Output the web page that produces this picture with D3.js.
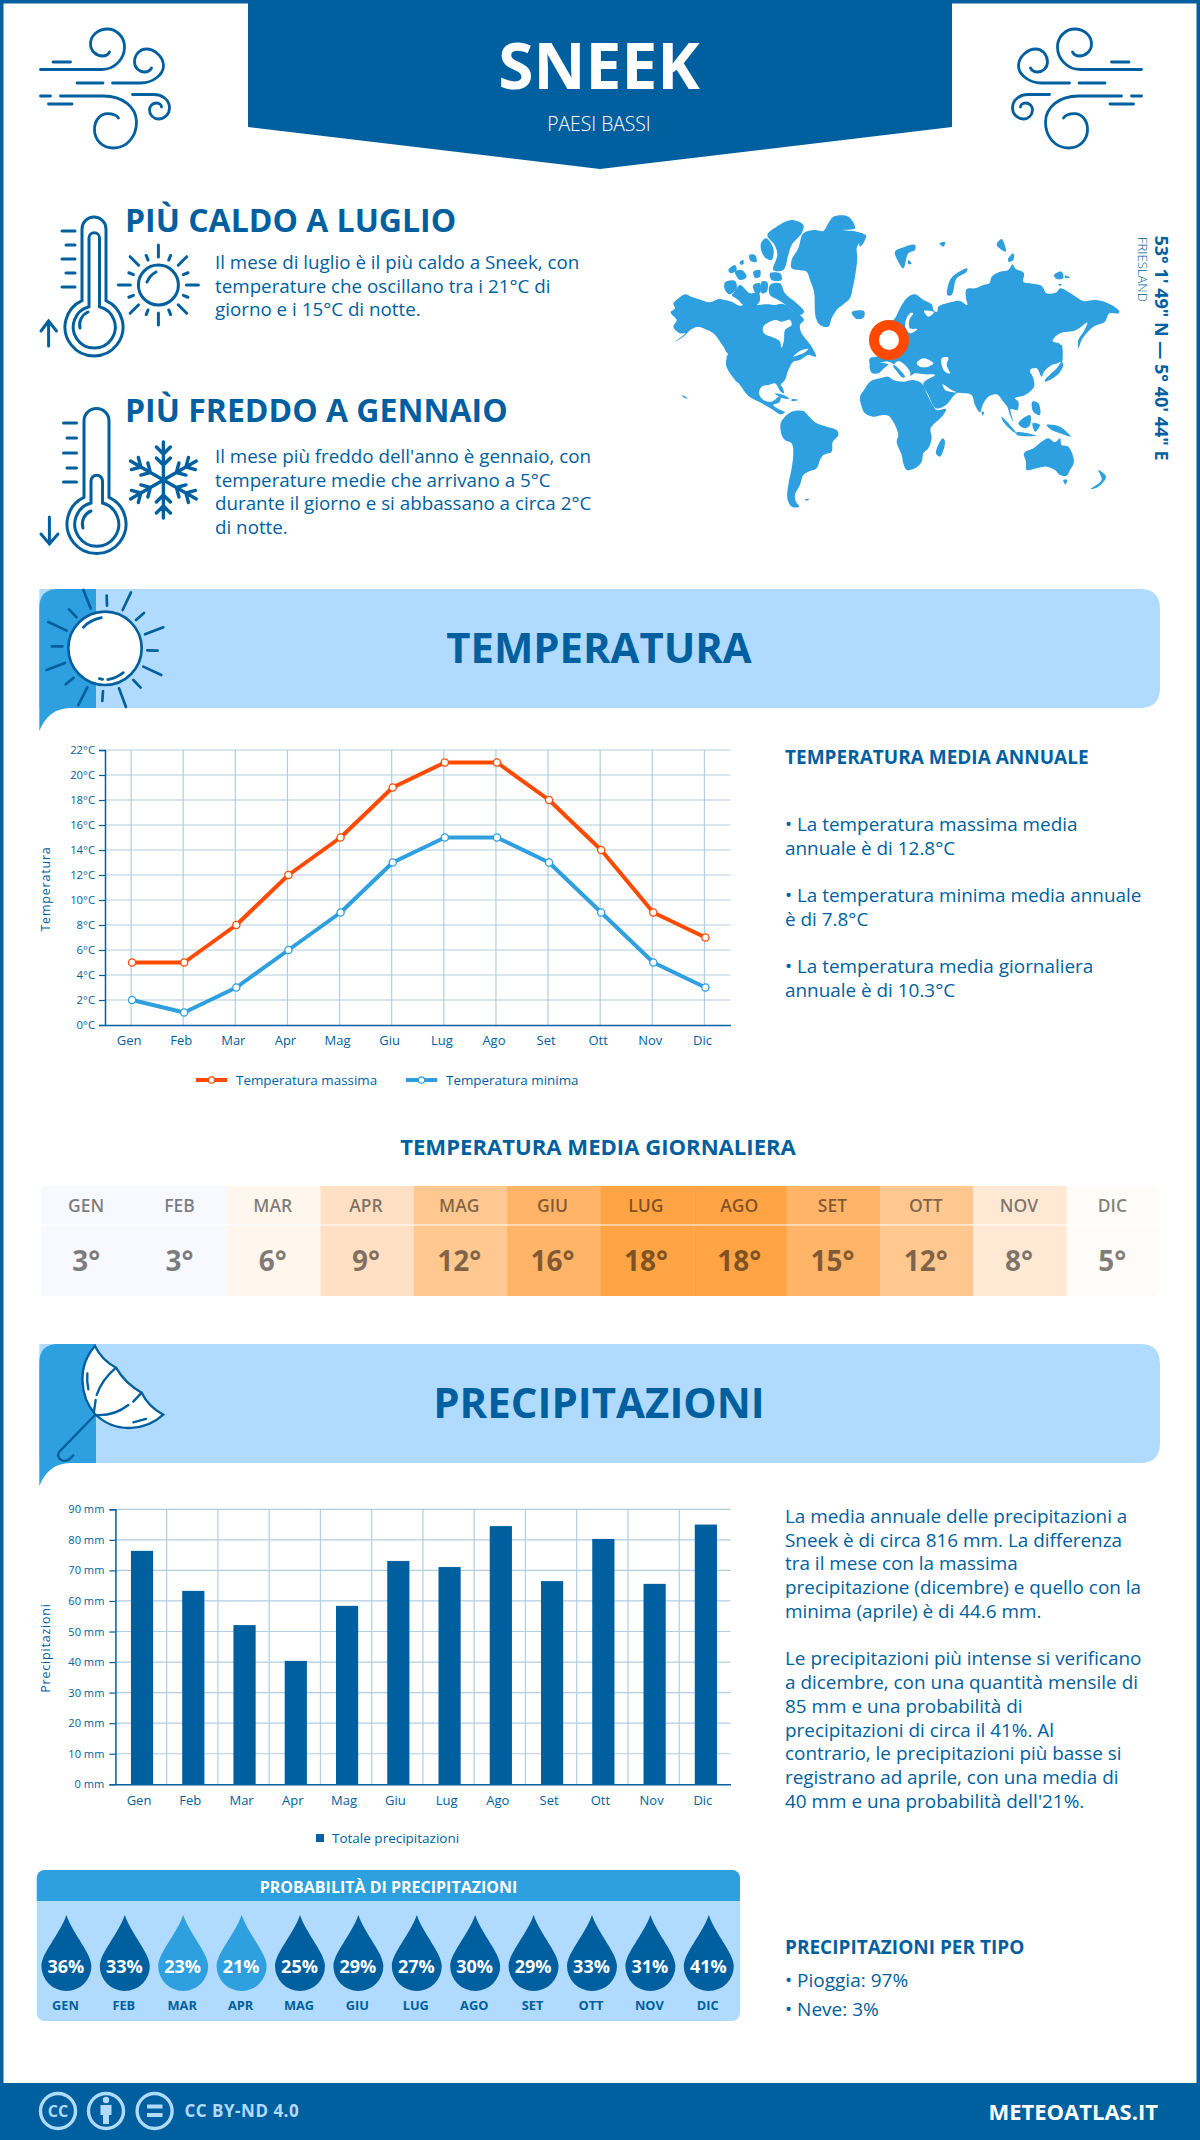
<!DOCTYPE html>
<html><head><meta charset="utf-8">
<script src="https://d3js.org/d3.v7.min.js"></script>
<style>
html,body{margin:0;padding:0;background:#fff}
svg{display:block}
text{font-family:"Open Sans",sans-serif}
</style></head><body><div id="c"></div>
<script>
const months=["Gen","Feb","Mar","Apr","Mag","Giu","Lug","Ago","Set","Ott","Nov","Dic"];
const monthsUpper=["GEN","FEB","MAR","APR","MAG","GIU","LUG","AGO","SET","OTT","NOV","DIC"];
const tempMax=[5,5,8,12,15,19,21,21,18,14,9,7];
const tempMin=[2,1,3,6,9,13,15,15,13,9,5,3];
const tempTicks=d3.range(0,23,2);
const dailyAvg=[3,3,6,9,12,16,18,18,15,12,8,5];
const dailyColors=["#f8f8ff","#f8f8ff","#fff6ee","#ffe0c4","#ffc890","#ffb468","#ffa445","#ffa445","#ffb468","#ffc890","#ffe9d4","#fffbf8"];
const precip=[76.4,63.3,52.1,40.4,58.4,73.1,71.1,84.5,66.5,80.3,65.6,85];
const precipTicks=d3.range(0,91,10);
const precipProb=[36,33,23,21,25,29,27,30,29,33,31,41];

const DARK="#005f9e",MID="#2e9fdf",LIGHT="#b0dbff",ORANGE="#ff4a00",GRID="#b1cde2";
const svg=d3.select("#c").append("svg").attr("width",1200).attr("height",2140).attr("viewBox","0 0 1200 2140");

function txt(p,x,y,s,size,o={}){
  const t=p.append("text").attr("x",x).attr("y",y).text(s).attr("font-size",size)
    .attr("fill",o.fill||DARK).attr("font-weight",o.w||400).attr("text-anchor",o.a||"start");
  if(o.ls)t.attr("letter-spacing",o.ls);
  if(o.op)t.attr("fill-opacity",o.op);
  if(o.tr)t.attr("transform",o.tr);
  return t;
}
function lines(p,x,ys,arr,size,o){arr.forEach((s,i)=>txt(p,x,ys[i],s,size,o));}

// frame
svg.append("rect").attr("x",1.75).attr("y",1.75).attr("width",1196.5).attr("height",2130).attr("fill","none").attr("stroke",DARK).attr("stroke-width",3.5);

// header
svg.append("path").attr("d","M248,0H952V127L600,169L248,127Z").attr("fill",DARK);
txt(svg,599,89,"SNEEK",64,{fill:"#fff",w:700,a:"middle"});
txt(svg,599,131,"PAESI BASSI",19.3,{fill:"#fff",w:300,a:"middle"});

// wind icons
const windPaths=["M40,69.5H101C115,69.5 124,58 124,47C124,36 115,29 107,29C97,29 90,36 90,44C90,51 96,56 102,56C105,56 108,54 109,52",
"M52.5,62H70","M76.5,83H102.5",
"M112,83H140C153,83 163,74 163,66C163,56 153,49 146,49C139,49 134,55 134,62C134,68 139,72 144,72C147,72 150,70 151,68",
"M40,96H50","M60,96H103C122,96 136,107 136,122C136,137 126,148 113,148C102,148 94,140 94,129.5C94,120 100,113.6 107,113.6C112,113.6 116,115 118,118",
"M48,104H71.5",
"M132,94.5H153C162,94.5 169,100 169,108C169,114 164,119 158,119C153,119 149,115 149,110C149,106 152,103 156,103C159,103 161,105 161,107"];
[ "translate(0.5,0)", "translate(1181.5,0) scale(-1,1)" ].forEach(tr=>{
  svg.append("g").attr("transform",tr).selectAll("path").data(windPaths).join("path").attr("d",d=>d)
    .attr("fill","none").attr("stroke",DARK).attr("stroke-width",2.8).attr("stroke-linecap","round");
});

// hot / cold icons
const icon=svg.append("g").attr("fill","none").attr("stroke",DARK).attr("stroke-width",3).attr("stroke-linecap","round");
icon.append("path").attr("d","M82,300.6V229A12,12 0 0 1 106,229V300.6A29,29 0 1 1 82,300.6Z");
icon.append("path").attr("d","M89,306.7V238A5.2,5.2 0 0 1 99.5,238V306.7A21,21 0 1 1 89,306.7Z");
icon.append("path").attr("d","M80,328A14,14 0 0 1 88,312");
[[62,231],[66,245],[62,259],[66,273],[62,287]].forEach(d=>icon.append("path").attr("d",`M${d[0]},${d[1]}H75`));
icon.append("path").attr("d","M48.6,346V321M41,331L48.6,321L56.5,331");
// small sun
icon.append("circle").attr("cx",158.4).attr("cy",285).attr("r",20);
icon.append("path").attr("d","M147,282Q150,275 156,272");
d3.range(16).forEach(i=>{const a=i*Math.PI/8,r0=i%2?27:28,r1=i%2?32:40;
  icon.append("path").attr("d",`M${158.4+r0*Math.cos(a)},${285+r0*Math.sin(a)}L${158.4+r1*Math.cos(a)},${285+r1*Math.sin(a)}`);});
icon.append("path").attr("d","M84,497.3V421A12.5,12.5 0 0 1 109,421V497.3A29.5,29.5 0 1 1 84,497.3Z");
icon.append("path").attr("d","M91,503V481A5.7,5.7 0 0 1 102.5,481V503A22,22 0 1 1 91,503Z");
icon.append("path").attr("d","M83,528A14,14 0 0 1 91,511");
[[63.5,423],[67,438],[63.5,453],[67,468],[63.5,482]].forEach(d=>icon.append("path").attr("d",`M${d[0]},${d[1]}H76.5`));
icon.append("path").attr("d","M49.4,517V543M41,534L49.4,544L58,534");
// snowflake
d3.range(6).forEach(i=>{
  const g=icon.append("g").attr("transform",`translate(163.4,480) rotate(${i*60})`).attr("stroke-width",3.4);
  g.append("path").attr("d","M0,0V-38M-7,-33L0,-26L7,-33M-7,-22L0,-15L7,-22");
});

// hot / cold text
txt(svg,125,232,"PIÙ CALDO A LUGLIO",32,{w:700});
lines(svg,215,[269,292.5,316],["Il mese di luglio è il più caldo a Sneek, con","temperature che oscillano tra i 21°C di","giorno e i 15°C di notte."],18.8);
txt(svg,125,421.5,"PIÙ FREDDO A GENNAIO",32,{w:700});
lines(svg,215,[463,486.5,510,534],["Il mese più freddo dell'anno è gennaio, con","temperature medie che arrivano a 5°C","durante il giorno e si abbassano a circa 2°C","di notte."],18.8);

// world map (decorative outlines, in zoomed pixel units)
const mapWest=[
"40,295 58,278 75,268 95,276 115,282 150,292 175,282 195,285 215,290 240,302 262,296 290,300 320,298 345,300 365,296 378,300 395,315 420,330 432,345 420,360 425,385 440,405 455,425 468,455 445,450 420,465 400,470 385,495 375,525 362,540 368,548 372,565 362,560 352,543 345,535 325,540 305,545 297,565 310,585 335,590 362,572 358,592 340,600 355,612 375,622 362,628 335,612 300,592 268,575 245,550 225,525 210,505 198,480 200,445 180,410 160,385 135,372 115,365 95,372 70,395 45,410 75,385 60,385 40,365 50,345 32,322 45,310",
"330,240 360,235 375,265 410,295 432,320 420,330 395,315 378,300 355,285 330,270",
"220,265 240,240 270,265 295,262 300,285 290,300 250,300 235,285 215,270",
"195,232 225,228 230,250 210,268 195,255",
"205,195 225,180 230,195 212,205","225,200 245,195 260,215 240,225","240,170 250,165 250,178 240,178","268,150 285,150 290,170 272,168","280,200 300,195 300,215 285,218","305,230 322,232 320,260 305,265","280,240 300,235 300,265 285,262",
"322,90 350,65 395,45 430,60 425,85 395,120 385,150 370,195 340,195 352,150 345,122",
"303,115 318,100 340,130 335,165 318,160 305,140","330,205 360,205 365,225 335,225",
"395,165 415,130 430,85 465,75 490,78 505,55 520,35 565,35 585,70 550,75 590,80 615,90 600,110 590,130 592,155 590,180 585,215 578,250 570,280 550,298 530,315 515,340 505,365 480,360 468,340 465,320 462,260 450,225 440,200 415,195 395,190",
"575,322 610,318 612,335 590,342",
"362,655 375,635 395,620 430,618 445,632 470,655 500,665 530,675 535,690 518,712 515,740 490,750 480,765 470,790 445,800 430,810 420,840 405,870 408,890 418,905 395,905 382,880 385,840 395,790 400,740 395,715 375,705 365,690",
"345,566 372,570 388,582 365,578","395,583 415,585 395,588","435,883 448,882 440,887","66,570 84,580 72,578"];
const mapWestHoles=[
"345,345 310,365 312,385 345,400 360,410 365,428 372,405 375,375 395,360 390,345 365,350",
"400,455 420,438 445,432 430,445 415,450",
"230,530 255,565 250,568 228,538","188,432 204,448 200,452"];
const mapEast=[
"30,478 60,473 85,470 100,477 120,495 135,515 128,518 110,498 100,483 115,468 135,480 150,500 152,512 165,505 195,508 225,510 190,535 205,570 228,610 258,600 290,565 312,565 335,570 345,600 360,622 368,600 385,575 410,568 430,590 442,605 450,630 460,650 452,612 472,615 475,590 465,580 495,570 522,545 520,520 510,495 530,490 545,515 552,500 575,480 600,470 600,418 578,408 600,385 640,378 660,368 682,352 672,378 655,405 655,430 668,400 700,365 735,350 748,325 775,325 778,318 740,293 705,285 670,288 640,270 600,250 590,262 560,265 545,243 510,235 490,230 492,205 465,190 458,178 445,195 420,200 395,215 388,235 370,240 345,250 320,252 318,280 322,300 300,288 280,290 235,305 232,320 222,318 215,298 190,285 165,268 145,275 125,300 105,340 85,360 60,450 30,460",
"30,478 60,473 85,478 72,490 55,505 35,503",
"0,575 12,555 30,530 60,520 85,515 100,525 130,530 160,525 185,535 200,565 218,600 230,615 258,612 250,630 235,645 212,670 215,700 205,730 190,745 185,770 165,790 140,795 130,775 125,750 110,710 115,690 100,650 85,632 70,630 40,635 15,625 5,605",
"248,700 255,710 240,755 228,745",
"492,745 520,730 545,710 565,700 585,712 600,700 605,720 625,725 642,770 630,795 620,812 600,810 585,795 560,785 530,790 500,795 498,770",
"610,825 622,825 616,838","715,795 738,815 715,845 692,852 725,825",
"560,660 600,665 632,695 600,685 575,675","475,655 510,630 510,660 495,670","425,635 470,685 460,680 430,650","470,682 530,692 470,690",
"518,655 540,660 525,680","517,590 535,595 540,630 520,620","555,525 590,490 605,470 610,480 592,510 555,530","600,420 605,420 606,470 600,470","365,620 372,622 368,632",
"105,140 135,125 165,120 165,135 145,145 130,190 115,170","145,165 155,175 145,178",
"262,270 270,225 290,205 322,190 320,200 290,220 275,270","238,115 256,112 250,125",
"410,120 425,102 438,140","445,160 460,145 460,165 445,170","582,210 605,200 610,220 590,222","615,212 630,218 615,218","595,238 605,238 600,243",
"0,95 18,90 10,115 0,125","0,322 12,318 12,335 0,342"];
const mapEastHoles=[
"150,325 135,360 150,385 172,372 150,370 148,345 160,325",
"170,475 190,460 220,475 205,485 180,485","245,460 265,458 260,480 270,505 255,500 245,480",
"248,538 275,555 290,562 270,560 255,555","192,318 222,322 205,335"];
const smooth=d3.line().curve(d3.curveCatmullRomClosed.alpha(.5));
function pts(s){return s.split(" ").map(p=>p.split(",").map(Number));}
function drawMap(tr,polys,holes){
  const g=svg.append("g").attr("transform",tr);
  g.selectAll(".a").data(polys).join("path").attr("d",d=>smooth(pts(d))).attr("fill",MID);
  g.selectAll(".b").data(holes).join("path").attr("d",d=>smooth(pts(d))).attr("fill","#fff");
}
drawMap("translate(660,205) scale(.3333)",mapWest,mapWestHoles);
drawMap("translate(860,205) scale(.3333)",mapEast,mapEastHoles);
svg.append("circle").attr("cx",889).attr("cy",340).attr("r",15).attr("fill","#fff").attr("stroke",ORANGE).attr("stroke-width",10);
txt(svg,0,0,"53° 1' 49\" N — 5° 40' 44\" E",18,{w:700,tr:"translate(1155,235.5) rotate(90)"});
txt(svg,0,0,"FRIESLAND",13,{w:300,tr:"translate(1137.5,237) rotate(90)"});

// banners
function banner(y,title,size){
  const h=119;
  svg.append("path").attr("d",`M39.3,${y}H1140Q1160,${y} 1160,${y+20}V${y+h-20}Q1160,${y+h} 1140,${y+h}H39.3Z`).attr("fill",LIGHT);
  svg.append("path").attr("d",`M39.3,${y+142}V${y+19}Q39.3,${y} 58,${y}H96V${y+h}H70C55,${y+h} 45,${y+128} 39.3,${y+142}Z`).attr("fill",MID);
  txt(svg,599,y+74,title,size,{w:700,a:"middle"});
}
banner(589,"TEMPERATURA",41.8);
banner(1344,"PRECIPITAZIONI",42);

// banner sun
const sunRays=[[160,15,182,70],[230,32,231,62],[303,22,278,75],[342,84,318,105],[400,127,345,148],[352,196,383,197],[340,245,394,270],[310,285,332,308],[267,310,288,366],[219,318,217,348],[172,307,145,360],[131,278,107,298],[105,234,50,255],[97,184,66,184],[110,137,55,111],[140,97,117,73]];
const bs=svg.append("g").attr("transform","translate(30,585) scale(.3333)").attr("fill","none").attr("stroke",DARK).attr("stroke-width",8).attr("stroke-linecap","round");
bs.selectAll("line").data(sunRays).join("line").attr("x1",d=>d[0]).attr("y1",d=>d[1]).attr("x2",d=>d[2]).attr("y2",d=>d[3]);
bs.append("circle").attr("cx",225).attr("cy",190).attr("r",110).attr("fill","#fff");
bs.append("path").attr("d","M160,127Q180,105 214,98M233,284Q258,280 280,263M208,281L218,283");

// banner umbrella
const um=svg.append("g").attr("transform","translate(30,1340) scale(.3333)").attr("fill","none").attr("stroke",DARK).attr("stroke-width",7).attr("stroke-linecap","round");
um.append("path").attr("d","M195,18Q215,60 258,83Q285,130 335,158Q355,200 400,224C350,270 260,285 195,222C150,170 140,80 195,18Z").attr("fill","#fff");
um.append("path").attr("d","M258,83Q215,120 200,165M197,180L192,215M195,225Q250,230 295,195M310,185L335,158M172,100Q170,125 175,148M310,247L348,237M195,225L88,335C78,350 92,365 108,362C118,360 125,352 130,346");

// temperature chart
const tc={l:105,r:730.5,t:750,b:1025};
const tx=d3.scaleBand().domain(months).range([tc.l,tc.r]);
const ty=d3.scaleLinear().domain([0,22]).range([tc.b,tc.t]);
const tg=svg.append("g");
tg.selectAll(".h").data(tempTicks.slice(1)).join("line").attr("x1",tc.l).attr("x2",tc.r).attr("y1",d=>ty(d)).attr("y2",d=>ty(d)).attr("stroke",GRID).attr("stroke-width",1.2);
tg.selectAll(".v").data(months).join("line").attr("x1",d=>tx(d)+tx.bandwidth()/2).attr("x2",d=>tx(d)+tx.bandwidth()/2).attr("y1",tc.t).attr("y2",tc.b).attr("stroke",GRID).attr("stroke-width",1.2);
function styleAxis(g,size){
  g.select(".domain").attr("stroke",DARK).attr("stroke-width",1.5);
  g.selectAll(".tick line").attr("stroke",DARK).attr("stroke-width",1.2);
  g.selectAll("text").attr("fill",DARK).attr("font-family",'"Open Sans",sans-serif').attr("font-size",size);
}
tg.append("g").attr("transform",`translate(${tc.l},0)`).call(d3.axisLeft(ty).tickValues(tempTicks).tickFormat(d=>d+"°C").tickSize(6).tickPadding(4)).call(styleAxis,11.3);
tg.append("g").attr("transform",`translate(0,${tc.b})`).call(d3.axisBottom(tx).tickSize(0).tickPadding(11)).call(styleAxis,13).call(g=>g.selectAll("text").attr("dx",-2));
txt(tg,0,0,"Temperatura",12.5,{a:"middle",ls:.8,tr:"translate(49.5,889) rotate(-90)"});
const lineGen=d3.line().x((d,i)=>tx(months[i])+tx.bandwidth()/2+1).y(d=>ty(d));
[[tempMax,ORANGE],[tempMin,MID]].forEach(([vals,col])=>{
  tg.append("path").attr("d",lineGen(vals)).attr("fill","none").attr("stroke",col).attr("stroke-width",4).attr("stroke-linejoin","round");
  tg.selectAll(null).data(vals).join("circle").attr("cx",(d,i)=>tx(months[i])+tx.bandwidth()/2+1).attr("cy",d=>ty(d)).attr("r",3.6).attr("fill","#fff").attr("stroke",col).attr("stroke-width",1.3);
});
[[196,ORANGE,"Temperatura massima",236],[406,MID,"Temperatura minima",446]].forEach(([x,col,s,tx0])=>{
  svg.append("line").attr("x1",x).attr("x2",x+31).attr("y1",1080).attr("y2",1080).attr("stroke",col).attr("stroke-width",4);
  svg.append("circle").attr("cx",x+15.5).attr("cy",1080).attr("r",3.2).attr("fill","#fff").attr("stroke",col).attr("stroke-width",1.2);
  txt(svg,tx0,1084.5,s,13.4);
});

// temp right text
txt(svg,785,764,"TEMPERATURA MEDIA ANNUALE",19,{w:700});
lines(svg,785,[831,855,902,926,973,997],["• La temperatura massima media","annuale è di 12.8°C","• La temperatura minima media annuale","è di 7.8°C","• La temperatura media giornaliera","annuale è di 10.3°C"],18.9);

// daily table
txt(svg,598,1155,"TEMPERATURA MEDIA GIORNALIERA",22.1,{w:700,a:"middle"});
const cx=d3.scaleBand().domain(monthsUpper).range([40.5,1160]);
svg.append("clipPath").attr("id","tc").append("rect").attr("x",40.5).attr("y",1186).attr("width",1119.5).attr("height",110).attr("rx",6);
const tb=svg.append("g").attr("clip-path","url(#tc)");
tb.selectAll("rect").data(monthsUpper).join("rect").attr("x",d=>cx(d)).attr("y",1186).attr("width",cx.bandwidth()+.3).attr("height",110).attr("fill",(d,i)=>dailyColors[i]);
svg.append("line").attr("x1",40.5).attr("x2",1160).attr("y1",1225).attr("y2",1225).attr("stroke","#fff").attr("stroke-width",1.2);
monthsUpper.forEach((m,i)=>{
  const c=cx(m)+cx.bandwidth()/2-1;
  txt(svg,c,1212,m,17.5,{fill:"#000",op:.5,w:600,a:"middle"});
  txt(svg,c,1271,dailyAvg[i]+"°",28,{fill:"#000",op:.5,w:700,a:"middle"});
});

// precipitation chart
const pc={l:115.4,r:730.5,t:1509.3,b:1784.3};
const px=d3.scaleBand().domain(months).range([pc.l,pc.r]);
const py=d3.scaleLinear().domain([0,90]).range([pc.b,pc.t]);
const pg=svg.append("g");
pg.selectAll(".h").data(precipTicks.slice(1)).join("line").attr("x1",pc.l).attr("x2",pc.r).attr("y1",d=>py(d)).attr("y2",d=>py(d)).attr("stroke",GRID).attr("stroke-width",1.2);
pg.selectAll(".v").data(months.slice(1)).join("line").attr("x1",d=>px(d)).attr("x2",d=>px(d)).attr("y1",pc.t).attr("y2",pc.b).attr("stroke",GRID).attr("stroke-width",1.2);
pg.selectAll(".bar").data(precip).join("rect").attr("x",(d,i)=>px(months[i])+px.bandwidth()/2-10.1).attr("width",22.2).attr("y",d=>py(d)).attr("height",d=>pc.b-py(d)).attr("fill",DARK);
pg.append("g").attr("transform",`translate(${pc.l},0)`).call(d3.axisLeft(py).tickValues(precipTicks).tickFormat(d=>d+" mm").tickSize(6).tickPadding(5)).call(styleAxis,11.1);
pg.append("g").attr("transform",`translate(0,${pc.b})`).call(d3.axisBottom(px).tickSize(0).tickPadding(11)).call(styleAxis,13).call(g=>g.selectAll("text").attr("dx",-2));
txt(pg,0,0,"Precipitazioni",12.5,{a:"middle",ls:.8,tr:"translate(49.5,1648) rotate(-90)"});
svg.append("rect").attr("x",316).attr("y",1834).attr("width",8).attr("height",8).attr("fill",DARK);
txt(svg,332,1842.5,"Totale precipitazioni",13.5);

// precipitation right text
lines(svg,785,[1523,1546.7,1570.4,1594,1618,1665,1689,1713,1736.5,1760,1784,1808],
["La media annuale delle precipitazioni a","Sneek è di circa 816 mm. La differenza","tra il mese con la massima","precipitazione (dicembre) e quello con la","minima (aprile) è di 44.6 mm.","Le precipitazioni più intense si verificano","a dicembre, con una quantità mensile di","85 mm e una probabilità di","precipitazioni di circa il 41%. Al","contrario, le precipitazioni più basse si","registrano ad aprile, con una media di","40 mm e una probabilità dell'21%."],18.9);
txt(svg,785,1954,"PRECIPITAZIONI PER TIPO",19,{w:700});
lines(svg,785,[1987,2016],["• Pioggia: 97%","• Neve: 3%"],19);

// probability panel
svg.append("rect").attr("x",36.8).attr("y",1870).attr("width",703.2).attr("height",151).attr("rx",8).attr("fill",LIGHT);
svg.append("path").attr("d","M36.8,1901V1878A8,8 0 0 1 44.8,1870H732A8,8 0 0 1 740,1878V1901Z").attr("fill",MID);
txt(svg,388.5,1893,"PROBABILITÀ DI PRECIPITAZIONI",16,{fill:"#fff",w:700,a:"middle"});
const dx=d3.scaleBand().domain(monthsUpper).range([37.2,738]);
monthsUpper.forEach((m,i)=>{
  const c=dx(m)+dx.bandwidth()/2;
  svg.append("path").attr("transform",`translate(${c},1966)`).attr("d","M0,-51C-7,-31 -25,-13 -25,0A25,25 0 0 0 25,0C25,-13 7,-31 0,-51Z").attr("fill",precipProb[i]<25?MID:DARK);
  txt(svg,c-0.5,1973,precipProb[i]+"%",18,{fill:"#fff",w:700,a:"middle"});
  txt(svg,c-1,2010,m,12.8,{w:700,a:"middle"});
});

// footer
svg.append("rect").attr("x",0).attr("y",2083).attr("width",1200).attr("height",57).attr("fill",DARK);
const cc=svg.append("g").attr("fill","none").attr("stroke",LIGHT).attr("stroke-width",3.4);
[58,106,154.6].forEach(x=>cc.append("circle").attr("cx",x).attr("cy",2111).attr("r",17.5));
txt(svg,58,2117,"CC",16,{fill:LIGHT,w:700,a:"middle"});
svg.append("circle").attr("cx",106).attr("cy",2100).attr("r",3.2).attr("fill",LIGHT);
svg.append("path").attr("d","M100.5,2105H111.5V2115H109V2124H103V2115H100.5Z").attr("fill",LIGHT);
svg.append("path").attr("d","M147,2104.5H162.5V2108.5H147ZM147,2113H162.5V2117H147Z").attr("fill",LIGHT);
txt(svg,184.5,2117,"CC BY-ND 4.0",17,{fill:LIGHT,w:700,ls:.5});
txt(svg,1158,2120,"METEOATLAS.IT",22,{fill:"#fff",w:700,a:"end"});
</script></body></html>
